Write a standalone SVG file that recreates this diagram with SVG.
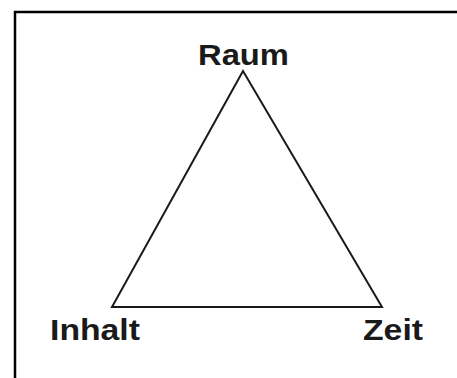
<svg xmlns="http://www.w3.org/2000/svg" width="457" height="378" viewBox="0 0 457 378">
<style>
.lbl{font-family:"Liberation Sans",Arial,sans-serif;font-weight:bold;font-size:29px;fill:#1a1a1a}
.edge{stroke:#1a1a1a;stroke-width:2;fill:none;stroke-linejoin:miter}
</style>
<rect width="457" height="378" fill="#fff"/>
<g id="frame"><polyline points="15,378 15,12 457,12" fill="none" stroke="#000" stroke-width="2.5"/></g>
<g id="connectors">
<polygon class="edge" points="243,71 112,307 382,307"/>
</g>
<g id="raum"><text class="lbl" x="198" y="65" textLength="91" lengthAdjust="spacingAndGlyphs">Raum</text></g>
<g id="inhalt"><text class="lbl" x="50" y="340" textLength="90" lengthAdjust="spacingAndGlyphs">Inhalt</text></g>
<g id="zeit"><text class="lbl" x="363" y="340" textLength="60" lengthAdjust="spacingAndGlyphs">Zeit</text></g>
</svg>
